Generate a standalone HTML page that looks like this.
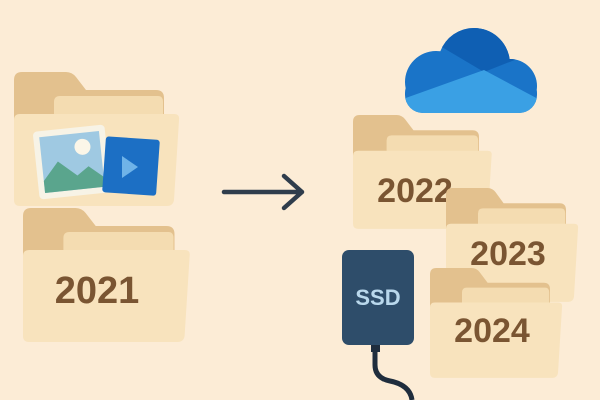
<!DOCTYPE html>
<html><head><style>body{margin:0;background:#fcecd6}svg{display:block}</style></head><body>
<svg width="600" height="400" viewBox="0 0 600 400" xmlns="http://www.w3.org/2000/svg">
<rect width="600" height="400" fill="#fcecd6"/>
<defs>
<g id="f">
<path d="M0 8 Q0 0 8 0 H52 Q58 0 62 5 L72 18 H142 Q150 18 150 26 V120 H0 Z" fill="#e3c18e"/>
<path d="M40 30 Q40 24 46 24 H144 Q149 24 149 30 V100 H40 Z" fill="#f4dcb1"/>
<path d="M0 48 Q0 42 6 42 H160 Q166 42 165 48 L160 128 Q159 134 153 134 H6 Q0 134 0 128 Z" fill="#f8e3bd"/>
</g>
<clipPath id="c">
<circle cx="436" cy="82" r="31"/>
<circle cx="474" cy="64" r="36"/>
<circle cx="510" cy="86" r="27"/>
<rect x="405" y="75" width="132" height="38" rx="18"/>
</clipPath>
</defs>
<use href="#f" transform="translate(14,72)"/>
<g transform="rotate(-6 72 162)">
<rect x="36" y="128" width="72" height="68" rx="4" fill="#f7f3e6"/>
<rect x="42" y="134" width="60" height="56" fill="#9fc9e2"/>
<circle cx="84" cy="148" r="8" fill="#fbf6e8"/>
<path d="M42 178 L58 160 L76 176 L88 168 L102 180 V190 H42 Z" fill="#5aa58d"/>
</g>
<rect x="104" y="138" width="54" height="56" rx="3" fill="#1c6fc4" transform="rotate(4 130 166)"/>
<path d="M122 156 L138 167 L122 178 Z" fill="#6fb3e8"/>
<use href="#f" transform="translate(23,208) scale(1.01,1)"/>
<text x="97" y="303" font-family="Liberation Sans,sans-serif" font-weight="bold" font-size="38" fill="#7a5532" text-anchor="middle">2021</text>
<path d="M224 192 H302 M284 176 L302 192 L284 208" stroke="#2f3d4c" stroke-width="4.5" fill="none" stroke-linecap="round" stroke-linejoin="round"/>
<g clip-path="url(#c)">
<rect x="400" y="20" width="140" height="100" fill="#1a74c8"/>
<path d="M430 40 L484 72 L540 50 V20 H430 Z" fill="#0f5fb3"/>
<path d="M400 100 L484 70 L540 100 V120 H400 Z" fill="#3aa0e4"/>
</g>
<use href="#f" transform="translate(353,115) scale(0.84,0.85)"/>
<text x="415" y="202" font-family="Liberation Sans,sans-serif" font-weight="bold" font-size="34" fill="#7a5532" text-anchor="middle">2022</text>
<use href="#f" transform="translate(446,188) scale(0.8,0.85)"/>
<text x="508" y="265" font-family="Liberation Sans,sans-serif" font-weight="bold" font-size="34" fill="#7a5532" text-anchor="middle">2023</text>
<use href="#f" transform="translate(430,268) scale(0.8,0.82)"/>
<text x="492" y="342" font-family="Liberation Sans,sans-serif" font-weight="bold" font-size="34" fill="#7a5532" text-anchor="middle">2024</text>
<path d="M375 345 V365 Q375 378 390 381 Q410 385 412 400" stroke="#1f2d3d" stroke-width="5" fill="none"/>
<rect x="371" y="342" width="9" height="10" fill="#1f2d3d"/>
<rect x="342" y="250" width="72" height="95" rx="7" fill="#2e4d6a"/>
<text x="378" y="305" font-family="Liberation Sans,sans-serif" font-weight="bold" font-size="22" fill="#b9d8ec" text-anchor="middle">SSD</text>
</svg>
</body></html>
